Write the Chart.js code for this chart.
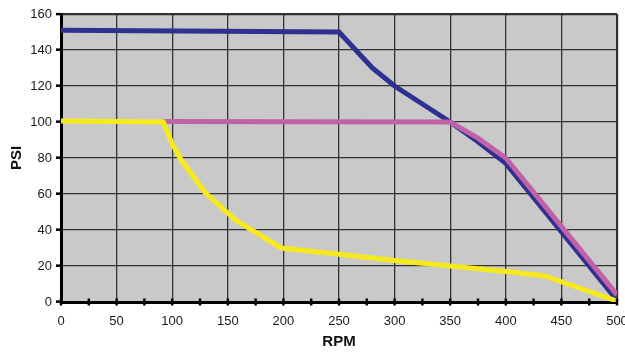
<!DOCTYPE html>
<html>
<head>
<meta charset="utf-8">
<script src="https://cdn.jsdelivr.net/npm/chart.js@4.4.1/dist/chart.umd.min.js"></script>
<style>
  html, body { margin: 0; padding: 0; background: #ffffff; }
  #wrap { width: 625px; height: 352px; position: relative; }
</style>
</head>
<body>
<div id="wrap"><canvas id="c" width="625" height="352"></canvas></div>
<script>
// ---- Data ----
const blueRPM   = [0, 250, 280, 300, 325, 350, 375, 400, 500];
const bluePSI   = [151, 150, 130, 120, 110, 100, 89, 77, 1];

const pinkRPM   = [92, 350, 375, 400, 500];
const pinkPSI   = [100.3, 100, 91, 80, 4];

const yellowRPM = [0, 92, 100, 108, 130, 157, 198, 250, 300, 350, 400, 435, 500];
const yellowPSI = [100.5, 100, 88, 79, 60.5, 45.5, 30, 26.5, 23, 20, 17, 14.5, 0.5];

const xTickLabels = [0, 50, 100, 150, 200, 250, 300, 350, 400, 450, 500];
const yTickLabels = [0, 20, 40, 60, 80, 100, 120, 140, 160];

const xTitle = 'RPM';
const yTitle = 'PSI';

function pts(xs, ys) { return xs.map((x, i) => ({ x: x, y: ys[i] })); }

const plotBg = {
  id: 'plotBg',
  beforeDraw(chart) {
    const { ctx, chartArea: a } = chart;
    ctx.save();
    ctx.fillStyle = '#c9c9c9';
    ctx.fillRect(a.left, a.top, a.right - a.left, a.bottom - a.top);
    ctx.restore();
  }
};

// crossing tick marks on the x axis (every 25 RPM)
const xMarks = {
  id: 'xMarks',
  afterDraw(chart) {
    const { ctx } = chart;
    const xs = chart.scales.x;
    const yb = chart.scales.y.getPixelForValue(0);
    ctx.save();
    ctx.strokeStyle = '#000';
    ctx.lineWidth = 2.5;
    xs.ticks.forEach(t => {
      const px = xs.getPixelForValue(t.value);
      ctx.beginPath();
      ctx.moveTo(px, yb - 3.5);
      ctx.lineTo(px, yb + 3.5);
      ctx.stroke();
    });
    ctx.restore();
  }
};

const ds = (label, data, color, order) => ({
  label, data, borderColor: color, backgroundColor: color,
  borderWidth: 5, pointRadius: 0, tension: 0, fill: false,
  borderCapStyle: 'butt', borderJoinStyle: 'miter', order
});

new Chart(document.getElementById('c'), {
  type: 'line',
  data: {
    datasets: [
      ds('Yellow', pts(yellowRPM, yellowPSI), '#f6ea1c', 1),
      ds('Pink', pts(pinkRPM, pinkPSI), '#c062a8', 2),
      ds('Blue', pts(blueRPM, bluePSI), '#2e3190', 3)
    ]
  },
  options: {
    responsive: false,
    animation: false,
    devicePixelRatio: 1,
    layout: { padding: { top: 14, right: 8, left: 0, bottom: 0 } },
    plugins: { legend: { display: false }, tooltip: { enabled: false } },
    scales: {
      x: {
        type: 'linear', min: 0, max: 500,
        afterFit(s) { s.height = 50; s.paddingLeft = 0; s.paddingRight = 0; },
        afterBuildTicks(s) {
          const t = [];
          for (let v = 0; v <= 500; v += 25) t.push({ value: v });
          s.ticks = t;
        },
        ticks: {
          autoSkip: false, maxRotation: 0, padding: 12,
          color: '#1a1a1a',
          font: { family: 'Liberation Sans, Arial, sans-serif', size: 13 },
          callback: v => (xTickLabels.includes(v) ? String(v) : '')
        },
        grid: {
          drawTicks: false,
          color: c => (c.tick && c.tick.value % 50 === 0 ? '#333333' : 'rgba(0,0,0,0)'),
          lineWidth: c => (c.tick && c.tick.value === 500 ? 2.2 : 1.3)
        },
        border: { display: true, color: '#000', width: 3 },
        title: {
          display: true, text: xTitle, color: '#111',
          font: { family: 'Liberation Sans, Arial, sans-serif', size: 15, weight: 'bold' },
          padding: { top: 0, bottom: 1 }
        }
      },
      y: {
        type: 'linear', min: 0, max: 160,
        afterFit(s) { s.width = 61; s.paddingTop = 0; s.paddingBottom = 0; },
        afterBuildTicks(s) { s.ticks = yTickLabels.map(v => ({ value: v })); },
        ticks: {
          padding: 4, color: '#1a1a1a',
          font: { family: 'Liberation Sans, Arial, sans-serif', size: 13 }
        },
        grid: {
          tickLength: 5, tickColor: '#000', tickWidth: 2.5,
          color: '#333333',
          lineWidth: c => (c.tick && c.tick.value === 160 ? 2.2 : 1.3)
        },
        border: { display: true, color: '#000', width: 3 },
        title: {
          display: true, text: yTitle, color: '#111',
          font: { family: 'Liberation Sans, Arial, sans-serif', size: 15, weight: 'bold' },
          padding: { top: 8, bottom: 0 }
        }
      }
    }
  },
  plugins: [plotBg, xMarks]
});
</script>
</body>
</html>
